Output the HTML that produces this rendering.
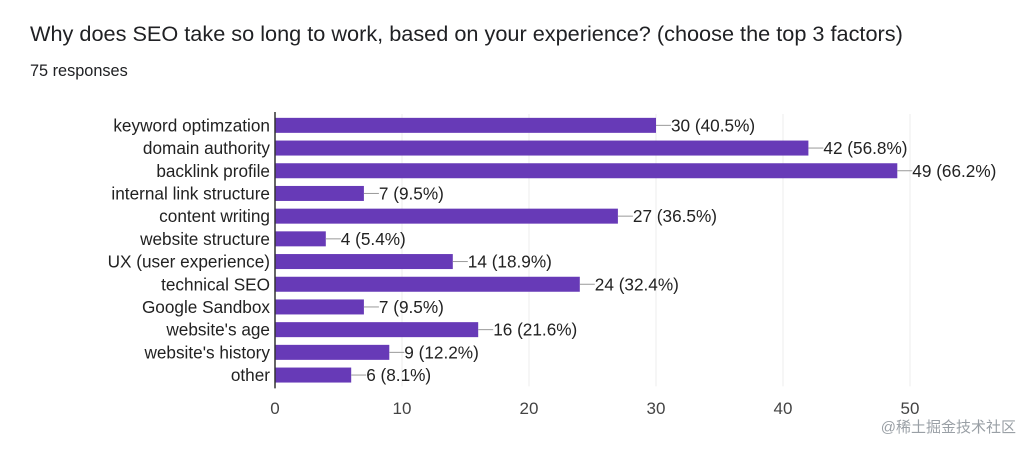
<!DOCTYPE html>
<html><head><meta charset="utf-8"><style>
body{margin:0;width:1024px;height:444px;background:#fff;overflow:hidden;font-family:"Liberation Sans",Arial,sans-serif}
</style></head><body>
<svg width="1024" height="444" xmlns="http://www.w3.org/2000/svg">
<text x="30" y="41" font-size="21.7" fill="#202124">Why does SEO take so long to work, based on your experience? (choose the top 3 factors)</text>
<text x="30" y="76" font-size="16.3" fill="#202124">75 responses</text>
<g id="grid"></g><g id="bars"></g><g id="ticks"></g>
<text x="1016" y="432" font-size="15" fill="#9aa0a6" text-anchor="end" font-family="Liberation Sans, Noto Sans CJK SC, sans-serif">@稀土掘金技术社区</text>
</svg>
<script>
const categories=["keyword optimzation","domain authority","backlink profile","internal link structure","content writing","website structure","UX (user experience)","technical SEO","Google Sandbox","website's age","website's history","other"];
const counts=[30,42,49,7,27,4,14,24,7,16,9,6];
const percents=["40.5%","56.8%","66.2%","9.5%","36.5%","5.4%","18.9%","32.4%","9.5%","21.6%","12.2%","8.1%"];
const ticks=[0,10,20,30,40,50];
const NS="http://www.w3.org/2000/svg";
const x0=275,x1=910,xmax=50,top0=114,rowH=22.7;
const X=v=>x0+(x1-x0)*v/xmax;
const Y=i=>top0+rowH*i+rowH/2;
function mk(t,a,p){const e=document.createElementNS(NS,t);for(const k in a)e.setAttribute(k,a[k]);p.appendChild(e);return e;}
const grid=document.getElementById('grid'),bars=document.getElementById('bars'),tk=document.getElementById('ticks');
const bottom=top0+rowH*categories.length;
ticks.forEach(t=>{
 if(t>0){const g=mk('line',{x1:X(t),x2:X(t),y1:top0,y2:bottom,stroke:'#ececec','stroke-width':1},grid);
 
 }
 const l=mk('text',{x:X(t),y:414,'font-size':17,fill:'#444','text-anchor':'middle'},tk);l.textContent=t;
 
 
});
categories.forEach((c,i)=>{
 const y=Y(i);
 const lb=mk('text',{x:x0-5,y:y+6,'font-size':17.2,fill:'#222','text-anchor':'end'},bars);lb.textContent=c;
 
 
 const r=mk('rect',{x:x0,y:y-7.5,width:X(counts[i])-x0,height:15,fill:'#673ab7'},bars);
 
 
 const ln=mk('line',{x1:X(counts[i]),x2:X(counts[i])+15,y1:y,y2:y,stroke:'#999','stroke-width':1},bars);
 
 
 const v=mk('text',{x:X(counts[i])+15,y:y+6,'font-size':17.2,fill:'#222'},bars);v.textContent=counts[i]+' ('+percents[i]+')';
 
 
});
const ax=mk('line',{x1:x0,x2:x0,y1:top0-2,y2:bottom+2,stroke:'#333','stroke-width':1.5},bars);


</script>
</body></html>
